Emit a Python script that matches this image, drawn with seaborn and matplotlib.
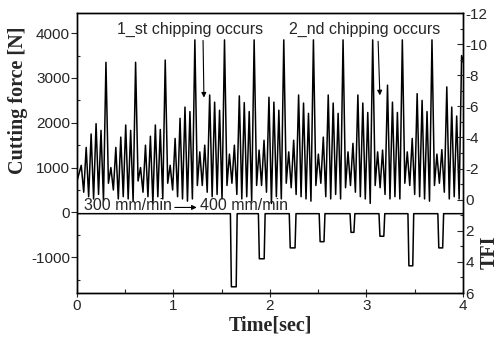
import numpy as np
import pandas as pd
import seaborn as sns
import matplotlib.pyplot as plt
from matplotlib.ticker import MultipleLocator

# Picos de fuerza de corte por diente (6 dientes por vuelta, 13 vueltas)
force_peaks = [
    [1050, 1450, 1750, 1980, 1830, 3350],
    [1000, 1450, 1680, 1950, 1830, 3350],
    [1000, 1500, 1700, 1950, 1850, 3400],
    [1050, 1650, 2100, 2350, 2250, 3850],
    [1350, 1500, 2620, 2460, 2280, 3850],
    [1300, 1500, 2600, 2450, 2250, 3850],
    [1390, 1610, 2570, 2460, 2280, 3850],
    [1350, 1610, 2620, 2440, 2210, 3850],
    [1300, 1680, 2620, 2440, 2210, 3850],
    [1350, 1540, 2620, 2440, 2230, 3850],
    [1350, 1390, 2840, 2460, 2230, 3850],
    [1350, 1650, 2650, 2500, 2250, 3850],
    [1300, 1400, 2800, 2350, 2150, 3500],
]
# Valles despues de cada diente
force_troughs = [
    [450, 350, 300, 400, 250, 650],
    [500, 300, 350, 300, 250, 700],
    [450, 350, 200, 350, 300, 650],
    [500, 350, 300, 250, 300, 600],
    [600, 450, 350, 400, 300, 600],
    [650, 400, 300, 350, 250, 600],
    [600, 450, 200, 350, 300, 650],
    [550, 400, 350, 300, 250, 600],
    [650, 350, 300, 400, 300, 550],
    [600, 450, 350, 300, 200, 600],
    [550, 400, 300, 350, 300, 650],
    [600, 400, 350, 300, 250, 600],
    [650, 450, 300, 350, 300, 3300],
]
force_start = 700
first_tooth = 0.044   # s
tooth_step = 0.0512   # s

# TFI: linea base y caidas
tfi_base = 0.9
dip_start = [1.59, 1.88, 2.20, 2.51, 2.83, 3.13, 3.43, 3.74]
dip_end = [1.66, 1.95, 2.27, 2.57, 2.88, 3.19, 3.49, 3.80]
dip_depth = [5.6, 3.8, 3.1, 2.7, 2.1, 2.35, 4.25, 3.1]

# Serie de fuerza
t_f, v_f = [0.0], [force_start]
k = 0
for peaks, troughs in zip(force_peaks, force_troughs):
    for p, tr in zip(peaks, troughs):
        tp = first_tooth + k * tooth_step
        t_f += [tp, tp + tooth_step / 2]
        v_f += [p, tr]
        k += 1
df_force = pd.DataFrame({"t": t_f, "F": v_f})

# Serie TFI
t_i, v_i = [0.0], [tfi_base]
for s, e, d in zip(dip_start, dip_end, dip_depth):
    t_i += [s, s + 0.01, e - 0.01, e]
    v_i += [tfi_base, d, d, tfi_base]
t_i.append(4.0)
v_i.append(tfi_base)
df_tfi = pd.DataFrame({"t": t_i, "TFI": v_i})

sns.set_style("ticks")
plt.rcParams["font.family"] = ["Liberation Sans", "DejaVu Sans"]
plt.rcParams["axes.unicode_minus"] = False

fig = plt.figure(figsize=(5.01, 3.45), dpi=100)
ax = fig.add_axes([0.1537, 0.1507, 0.7703, 0.8116])
ax2 = ax.twinx()

sns.lineplot(data=df_force, x="t", y="F", ax=ax, color="black", lw=1.1,
             estimator=None, sort=False)
sns.lineplot(data=df_tfi, x="t", y="TFI", ax=ax2, color="black", lw=1.1,
             estimator=None, sort=False)

ax.set_xlim(0, 4)
ax.set_ylim(-1800, 4450)
ax.set_xticks([0, 1, 2, 3, 4])
ax.set_yticks([-1000, 0, 1000, 2000, 3000, 4000])
ax.xaxis.set_minor_locator(MultipleLocator(0.5))
ax.yaxis.set_minor_locator(MultipleLocator(500))
ax.tick_params(axis="x", which="major", direction="inout", length=6, width=0.8, labelsize=11, pad=1)
ax.tick_params(axis="x", which="minor", direction="in", length=3, width=0.8)
ax.tick_params(axis="y", which="major", direction="out", length=4, width=0.8, labelsize=11, pad=1)
ax.tick_params(axis="y", which="minor", direction="in", length=2, width=0.8)

ax2.set_ylim(6, -12)
ax2.set_yticks(list(range(-12, 7, 2)))
ax2.yaxis.set_minor_locator(MultipleLocator(1))
ax2.tick_params(axis="y", which="major", direction="in", length=4, width=0.8, labelsize=11, pad=2)
ax2.tick_params(axis="y", which="minor", direction="in", length=2, width=0.8)

for a in (ax, ax2):
    for sp in a.spines.values():
        sp.set_linewidth(1.0)
        sp.set_color("black")

serif = ["Liberation Serif", "DejaVu Serif"]
ax.set_xlabel("Time[sec]", fontsize=14.5, fontweight="bold", family=serif, labelpad=2)
ax.set_ylabel("Cutting force [N]", fontsize=14.5, fontweight="bold", family=serif)
ax.yaxis.set_label_coords(-0.127, 0.69)
ax2.set_ylabel("TFI", fontsize=14.5, fontweight="bold", family=serif)
ax2.yaxis.set_label_coords(1.044, 0.146)

# Anotaciones
ax.text(1.17, 4090, "1_st chipping occurs", fontsize=11.5, ha="center", va="center")
ax.text(2.985, 4090, "2_nd chipping occurs", fontsize=11.5, ha="center", va="center")
ax.annotate("", xy=(1.316, 2500), xytext=(1.306, 3900),
            arrowprops=dict(arrowstyle="-|>", color="black", lw=0.8, mutation_scale=7))
ax.annotate("", xy=(3.14, 2550), xytext=(3.12, 3880),
            arrowprops=dict(arrowstyle="-|>", color="black", lw=0.8, mutation_scale=7))
ax.text(0.07, 150, "300 mm/min", fontsize=11.5, ha="left", va="center")
ax.annotate("", xy=(1.27, 110), xytext=(0.985, 110),
            arrowprops=dict(arrowstyle="-|>", color="black", lw=0.8, mutation_scale=7))
ax.text(1.28, 150, "400 mm/min", fontsize=11.5, ha="left", va="center")

fig.savefig("out.png", dpi=100)
